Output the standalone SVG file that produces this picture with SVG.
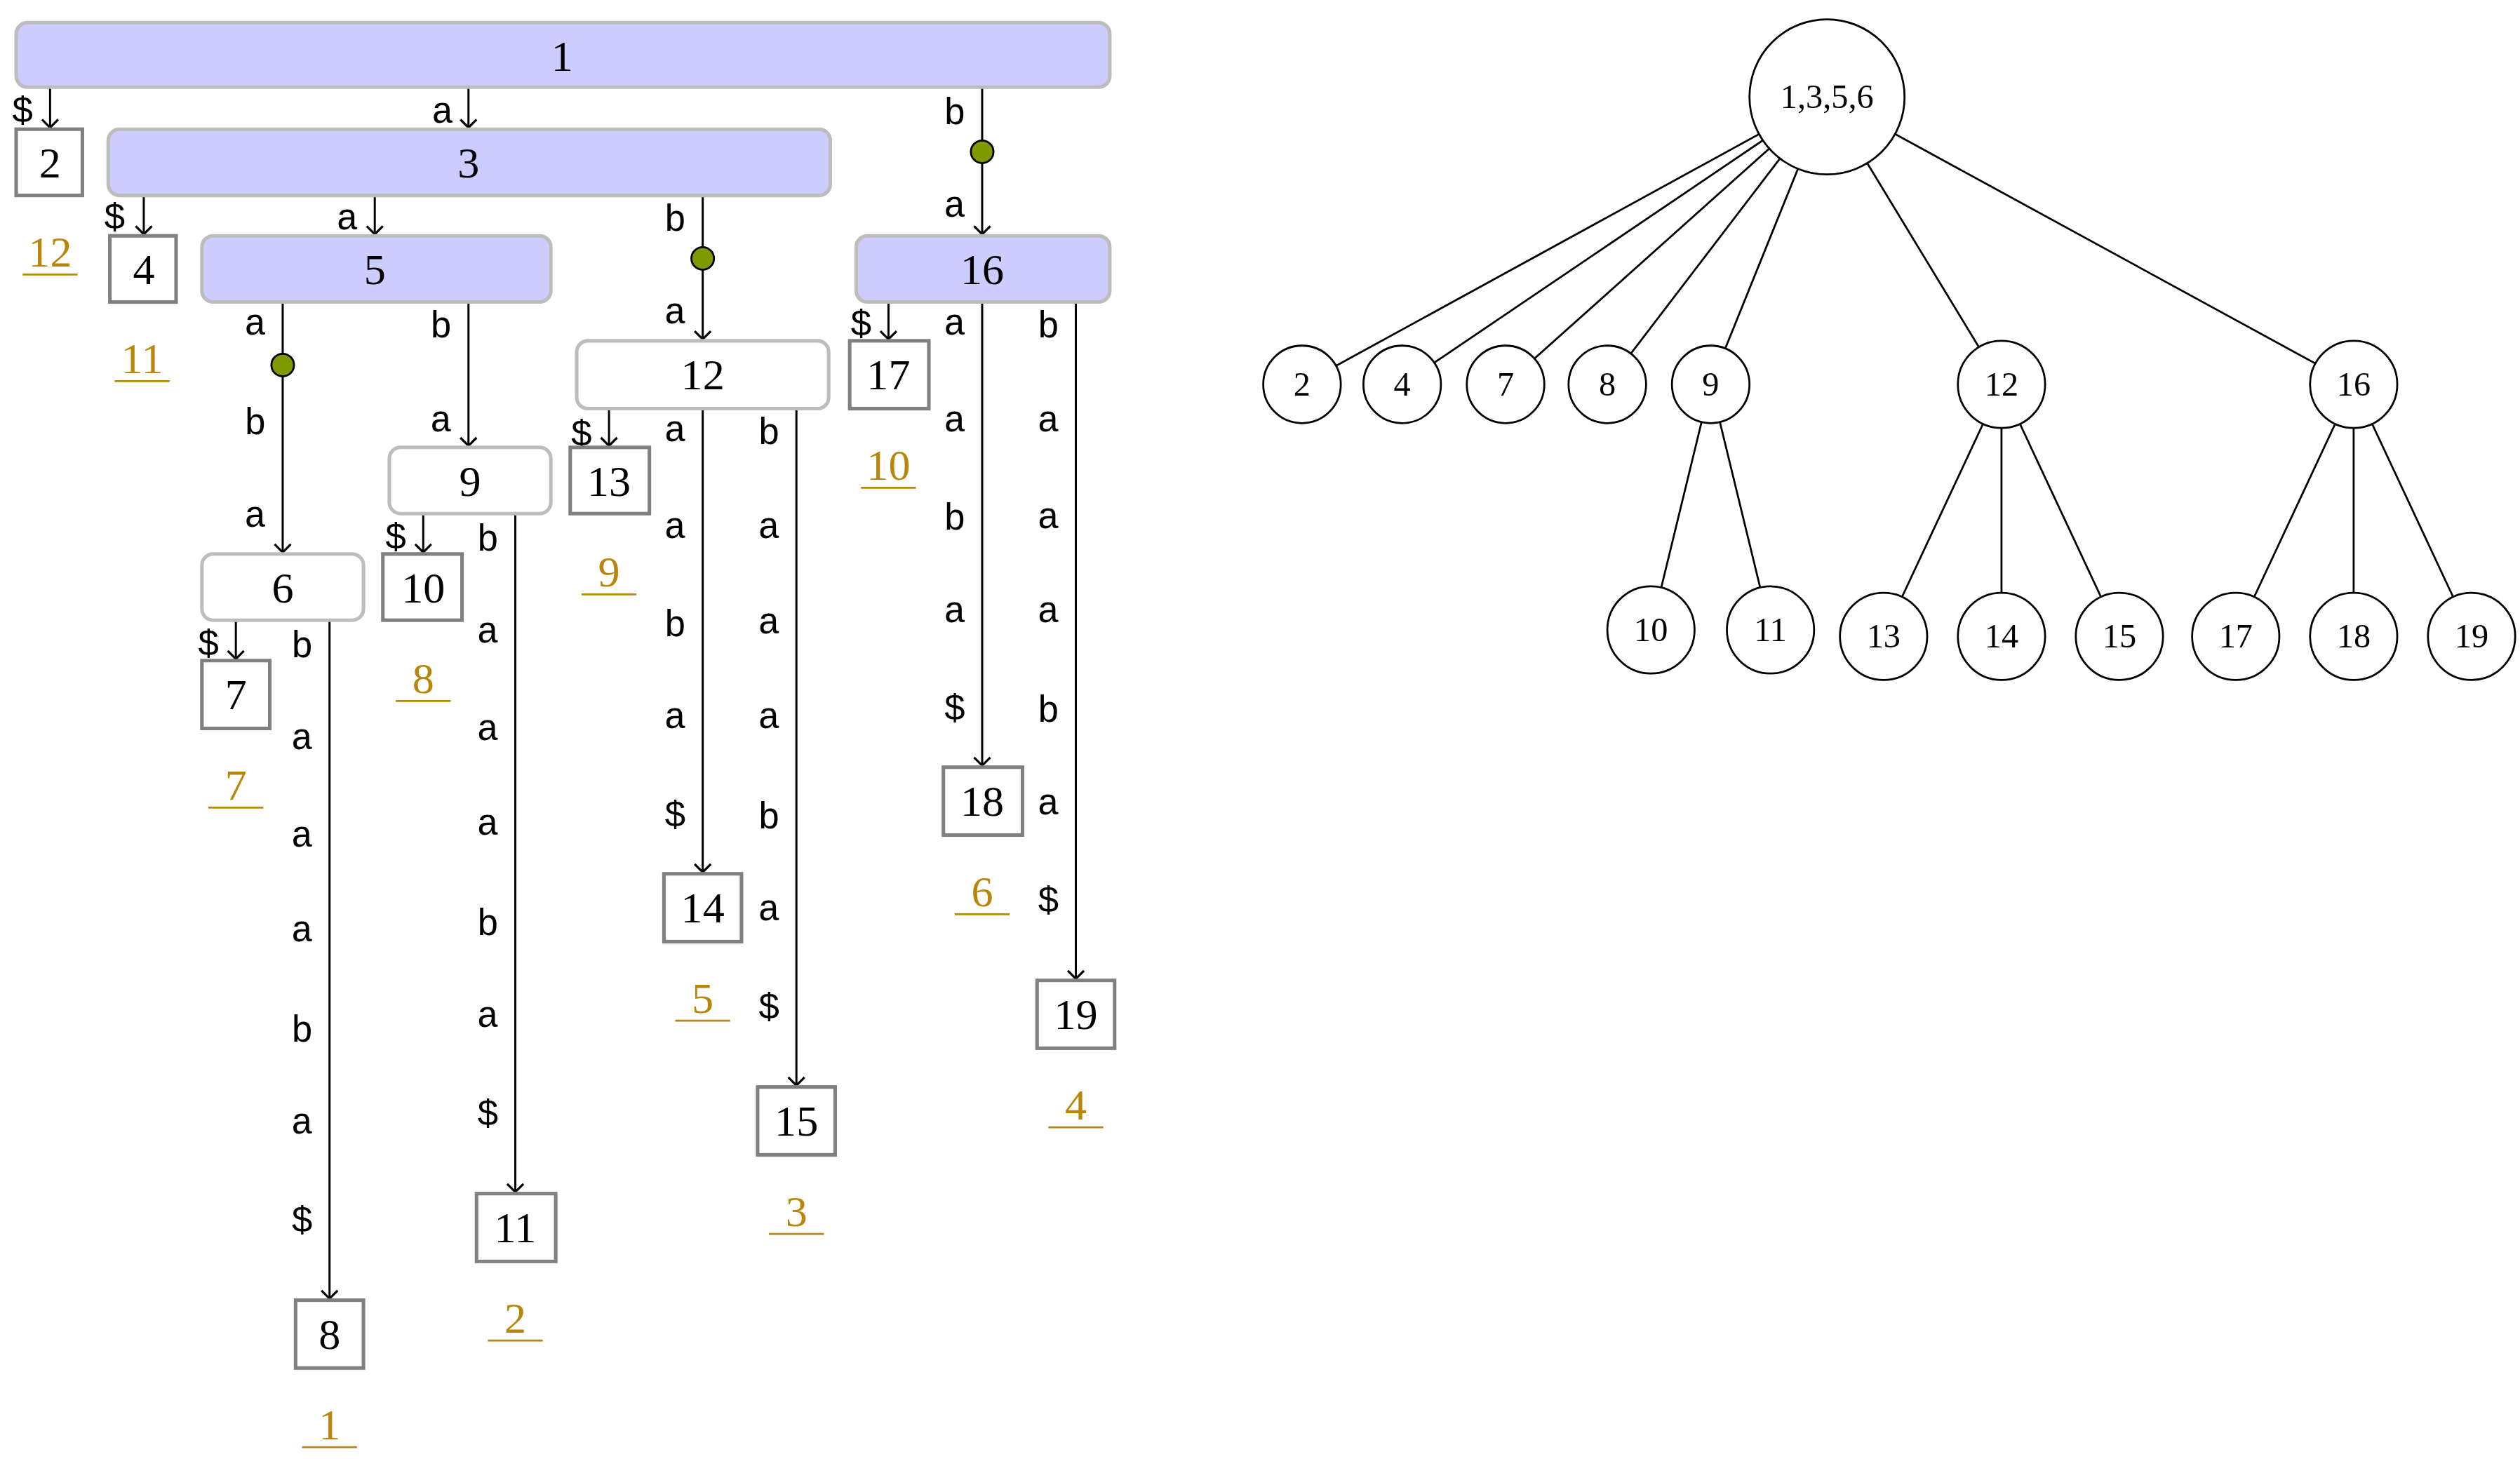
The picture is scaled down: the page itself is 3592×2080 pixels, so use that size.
<svg xmlns="http://www.w3.org/2000/svg" width="3592" height="2080" viewBox="0 0 3592 2080">
<style>
.inner{fill:#ccccff;stroke:#bdbdbd;stroke-width:2.2}
.wint{fill:#fff;stroke:#bdbdbd;stroke-width:2.2}
.leaf{fill:#fff;stroke:#808080;stroke-width:2.2}
.n{font-family:"Liberation Serif",serif;font-size:27px;text-anchor:middle;fill:#000}
.o{font-family:"Liberation Serif",serif;font-size:27px;text-anchor:middle;fill:#b8860b}
.ul{stroke:#b8860b;stroke-width:1.2}
.e{stroke:#000;stroke-width:1.3;fill:none}
.l{font-family:"Liberation Mono",monospace;font-size:23px;text-anchor:middle;fill:#000}
.dot{fill:#7f9a00;stroke:#000;stroke-width:1.2}
.c{fill:#fff;stroke:#000;stroke-width:1.2}
.t{stroke:#000;stroke-width:1.2}
.cn{font-family:"Liberation Serif",serif;font-size:21px;text-anchor:middle;fill:#000}
</style>
<defs>
<marker id="ah" markerUnits="userSpaceOnUse" markerWidth="14" markerHeight="14" viewBox="-7 -7 14 14" refX="0" refY="0" orient="auto">
<path d="M-5,-5 L0,0 L-5,5" fill="none" stroke="#000" stroke-width="1.4"/>
</marker>
</defs>
<rect width="3592" height="2080" fill="#fff"/>
<g transform="scale(2.3026)">
<g id="connectors">
<line class="e" x1="31" y1="54" x2="31" y2="79" marker-end="url(#ah)"/>
<line class="e" x1="290" y1="54" x2="290" y2="79" marker-end="url(#ah)"/>
<line class="e" x1="608" y1="54" x2="608" y2="145" marker-end="url(#ah)"/>
<line class="e" x1="89" y1="121" x2="89" y2="145" marker-end="url(#ah)"/>
<line class="e" x1="232" y1="121" x2="232" y2="145" marker-end="url(#ah)"/>
<line class="e" x1="435" y1="121" x2="435" y2="210" marker-end="url(#ah)"/>
<line class="e" x1="175" y1="187" x2="175" y2="342" marker-end="url(#ah)"/>
<line class="e" x1="290" y1="187" x2="290" y2="276" marker-end="url(#ah)"/>
<line class="e" x1="550" y1="187" x2="550" y2="210" marker-end="url(#ah)"/>
<line class="e" x1="608" y1="187" x2="608" y2="474" marker-end="url(#ah)"/>
<line class="e" x1="666" y1="187" x2="666" y2="606" marker-end="url(#ah)"/>
<line class="e" x1="377" y1="253" x2="377" y2="276" marker-end="url(#ah)"/>
<line class="e" x1="435" y1="253" x2="435" y2="540" marker-end="url(#ah)"/>
<line class="e" x1="493" y1="253" x2="493" y2="672" marker-end="url(#ah)"/>
<line class="e" x1="262" y1="318" x2="262" y2="342" marker-end="url(#ah)"/>
<line class="e" x1="319" y1="318" x2="319" y2="738" marker-end="url(#ah)"/>
<line class="e" x1="146" y1="384" x2="146" y2="408" marker-end="url(#ah)"/>
<line class="e" x1="204" y1="384" x2="204" y2="804" marker-end="url(#ah)"/>
<circle class="dot" cx="608" cy="94" r="7"/>
<circle class="dot" cx="435" cy="160" r="7"/>
<circle class="dot" cx="175" cy="226" r="7"/>
<text class="l" x="14" y="76">$</text>
<text class="l" x="274" y="76">a</text>
<text class="l" x="591" y="77">b</text><text class="l" x="591" y="134">a</text>
<text class="l" x="71" y="142">$</text>
<text class="l" x="215" y="142">a</text>
<text class="l" x="418" y="143">b</text><text class="l" x="418" y="200">a</text>
<text class="l" x="158" y="207">a</text><text class="l" x="158" y="269">b</text><text class="l" x="158" y="326">a</text>
<text class="l" x="273" y="209">b</text><text class="l" x="273" y="267">a</text>
<text class="l" x="533" y="208">$</text>
<text class="l" x="591" y="207">a</text><text class="l" x="591" y="267">a</text><text class="l" x="591" y="328">b</text><text class="l" x="591" y="385">a</text><text class="l" x="591" y="446">$</text>
<text class="l" x="649" y="209">b</text><text class="l" x="649" y="267">a</text><text class="l" x="649" y="327">a</text><text class="l" x="649" y="385">a</text><text class="l" x="649" y="447">b</text><text class="l" x="649" y="504">a</text><text class="l" x="649" y="565">$</text>
<text class="l" x="360" y="276">$</text>
<text class="l" x="418" y="273">a</text><text class="l" x="418" y="333">a</text><text class="l" x="418" y="394">b</text><text class="l" x="418" y="451">a</text><text class="l" x="418" y="512">$</text>
<text class="l" x="476" y="275">b</text><text class="l" x="476" y="333">a</text><text class="l" x="476" y="392">a</text><text class="l" x="476" y="451">a</text><text class="l" x="476" y="513">b</text><text class="l" x="476" y="570">a</text><text class="l" x="476" y="631">$</text>
<text class="l" x="245" y="340">$</text>
<text class="l" x="302" y="341">b</text><text class="l" x="302" y="398">a</text><text class="l" x="302" y="458">a</text><text class="l" x="302" y="517">a</text><text class="l" x="302" y="579">b</text><text class="l" x="302" y="636">a</text><text class="l" x="302" y="697">$</text>
<text class="l" x="129" y="406">$</text>
<text class="l" x="187" y="407">b</text><text class="l" x="187" y="464">a</text><text class="l" x="187" y="524">a</text><text class="l" x="187" y="583">a</text><text class="l" x="187" y="645">b</text><text class="l" x="187" y="702">a</text><text class="l" x="187" y="763">$</text>
</g>
<g id="n1"><rect class="inner" x="10" y="14" width="677" height="40" rx="7"/><text class="n" x="348" y="44">1</text></g>
<g id="n3"><rect class="inner" x="67" y="80" width="447" height="41" rx="7"/><text class="n" x="290" y="110">3</text></g>
<g id="n5"><rect class="inner" x="125" y="146" width="216" height="41" rx="7"/><text class="n" x="232" y="176">5</text></g>
<g id="n16"><rect class="inner" x="530" y="146" width="157" height="41" rx="7"/><text class="n" x="608" y="176">16</text></g>
<g id="n12"><rect class="wint" x="357" y="211" width="156" height="42" rx="7"/><text class="n" x="435" y="241">12</text></g>
<g id="n9"><rect class="wint" x="241" y="277" width="100" height="41" rx="7"/><text class="n" x="291" y="307">9</text></g>
<g id="n6"><rect class="wint" x="125" y="343" width="100" height="41" rx="7"/><text class="n" x="175" y="373">6</text></g>
<g id="n2"><rect class="leaf" x="10" y="80" width="41" height="41"/><text class="n" x="31" y="110">2</text></g>
<g id="n4"><rect class="leaf" x="68" y="146" width="41" height="41"/><text class="n" x="89" y="176">4</text></g>
<g id="n17"><rect class="leaf" x="526" y="211" width="49" height="42"/><text class="n" x="550" y="241">17</text></g>
<g id="n13"><rect class="leaf" x="353" y="277" width="49" height="41"/><text class="n" x="377" y="307">13</text></g>
<g id="n10"><rect class="leaf" x="237" y="343" width="49" height="41"/><text class="n" x="262" y="373">10</text></g>
<g id="n7"><rect class="leaf" x="125" y="409" width="42" height="42"/><text class="n" x="146" y="439">7</text></g>
<g id="n14"><rect class="leaf" x="411" y="541" width="48" height="42"/><text class="n" x="435" y="571">14</text></g>
<g id="n15"><rect class="leaf" x="469" y="673" width="48" height="42"/><text class="n" x="493" y="703">15</text></g>
<g id="n18"><rect class="leaf" x="584" y="475" width="49" height="42"/><text class="n" x="608" y="505">18</text></g>
<g id="n19"><rect class="leaf" x="642" y="607" width="48" height="42"/><text class="n" x="666" y="637">19</text></g>
<g id="n11"><rect class="leaf" x="295" y="739" width="49" height="42"/><text class="n" x="319" y="769">11</text></g>
<g id="n8"><rect class="leaf" x="183" y="805" width="42" height="42"/><text class="n" x="204" y="835">8</text></g>
<g id="ranks">
<text class="o" x="31" y="165">12</text><line class="ul" x1="14" y1="170" x2="48" y2="170"/>
<text class="o" x="88" y="231">11</text><line class="ul" x1="71" y1="236" x2="105" y2="236"/>
<text class="o" x="550" y="297">10</text><line class="ul" x1="533" y1="302" x2="567" y2="302"/>
<text class="o" x="377" y="363">9</text><line class="ul" x1="360" y1="368" x2="394" y2="368"/>
<text class="o" x="262" y="429">8</text><line class="ul" x1="245" y1="434" x2="279" y2="434"/>
<text class="o" x="146" y="495">7</text><line class="ul" x1="129" y1="500" x2="163" y2="500"/>
<text class="o" x="608" y="561">6</text><line class="ul" x1="591" y1="566" x2="625" y2="566"/>
<text class="o" x="435" y="627">5</text><line class="ul" x1="418" y1="632" x2="452" y2="632"/>
<text class="o" x="666" y="693">4</text><line class="ul" x1="649" y1="698" x2="683" y2="698"/>
<text class="o" x="493" y="759">3</text><line class="ul" x1="476" y1="764" x2="510" y2="764"/>
<text class="o" x="319" y="825">2</text><line class="ul" x1="302" y1="830" x2="336" y2="830"/>
<text class="o" x="204" y="891">1</text><line class="ul" x1="187" y1="896" x2="221" y2="896"/>
</g>
<g id="tree-edges">
<line class="t" x1="1131" y1="60" x2="806" y2="238"/>
<line class="t" x1="1131" y1="60" x2="868" y2="238"/>
<line class="t" x1="1131" y1="60" x2="932" y2="238"/>
<line class="t" x1="1131" y1="60" x2="995" y2="238"/>
<line class="t" x1="1131" y1="60" x2="1059" y2="238"/>
<line class="t" x1="1131" y1="60" x2="1239" y2="238"/>
<line class="t" x1="1131" y1="60" x2="1457" y2="238"/>
<line class="t" x1="1059" y1="238" x2="1022" y2="390"/>
<line class="t" x1="1059" y1="238" x2="1096" y2="390"/>
<line class="t" x1="1239" y1="238" x2="1166" y2="394"/>
<line class="t" x1="1239" y1="238" x2="1239" y2="394"/>
<line class="t" x1="1239" y1="238" x2="1312" y2="394"/>
<line class="t" x1="1457" y1="238" x2="1384" y2="394"/>
<line class="t" x1="1457" y1="238" x2="1457" y2="394"/>
<line class="t" x1="1457" y1="238" x2="1530" y2="394"/>
</g>
<g id="t-root"><circle class="c" cx="1131" cy="60" r="48"/><text class="cn" x="1131" y="67">1,3,5,6</text></g>
<g id="t2"><circle class="c" cx="806" cy="238" r="24"/><text class="cn" x="806" y="245">2</text></g>
<g id="t4"><circle class="c" cx="868" cy="238" r="24"/><text class="cn" x="868" y="245">4</text></g>
<g id="t7"><circle class="c" cx="932" cy="238" r="24"/><text class="cn" x="932" y="245">7</text></g>
<g id="t8"><circle class="c" cx="995" cy="238" r="24"/><text class="cn" x="995" y="245">8</text></g>
<g id="t9"><circle class="c" cx="1059" cy="238" r="24"/><text class="cn" x="1059" y="245">9</text></g>
<g id="t12"><circle class="c" cx="1239" cy="238" r="27"/><text class="cn" x="1239" y="245">12</text></g>
<g id="t16"><circle class="c" cx="1457" cy="238" r="27"/><text class="cn" x="1457" y="245">16</text></g>
<g id="t10"><circle class="c" cx="1022" cy="390" r="27"/><text class="cn" x="1022" y="397">10</text></g>
<g id="t11"><circle class="c" cx="1096" cy="390" r="27"/><text class="cn" x="1096" y="397">11</text></g>
<g id="t13"><circle class="c" cx="1166" cy="394" r="27"/><text class="cn" x="1166" y="401">13</text></g>
<g id="t14"><circle class="c" cx="1239" cy="394" r="27"/><text class="cn" x="1239" y="401">14</text></g>
<g id="t15"><circle class="c" cx="1312" cy="394" r="27"/><text class="cn" x="1312" y="401">15</text></g>
<g id="t17"><circle class="c" cx="1384" cy="394" r="27"/><text class="cn" x="1384" y="401">17</text></g>
<g id="t18"><circle class="c" cx="1457" cy="394" r="27"/><text class="cn" x="1457" y="401">18</text></g>
<g id="t19"><circle class="c" cx="1530" cy="394" r="27"/><text class="cn" x="1530" y="401">19</text></g>
</g>
</svg>
